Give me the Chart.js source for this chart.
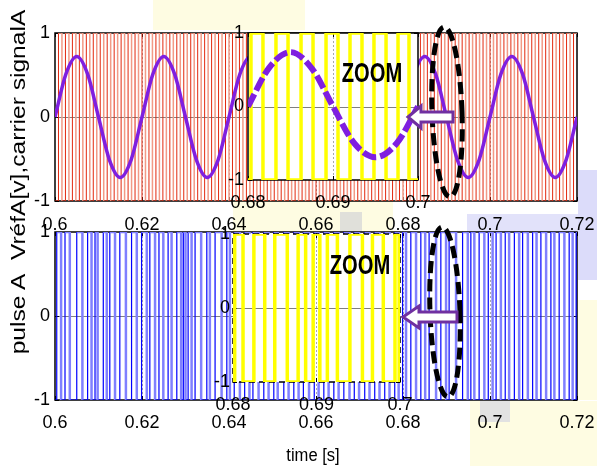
<!DOCTYPE html>
<html><head><meta charset="utf-8">
<script src="https://cdn.jsdelivr.net/npm/chart.js@4.4.1/dist/chart.umd.min.js"></script>
<style>
html,body{margin:0;padding:0;background:#fff;}
#fig{position:relative;width:597px;height:466px;overflow:hidden;background:#fff;font-family:'Liberation Sans',Arial,sans-serif;}
canvas{position:absolute;}
.bg{position:absolute;}
.txt{position:absolute;white-space:nowrap;color:#000;line-height:1;}
</style></head><body>
<div id="fig">
  <div class="bg" style="left:153px;top:0;width:152px;height:30px;background:#fefce2"></div>
  <div class="bg" style="left:233px;top:201px;width:160px;height:31px;background:#fefce2"></div>
  <div class="bg" style="left:340px;top:212px;width:22px;height:20px;background:#e0e0da"></div>
  <div class="bg" style="left:467px;top:214px;width:130px;height:18px;background:#e2e2fa"></div>
  <div class="bg" style="left:578px;top:170px;width:19px;height:110px;background:#dcdcfa"></div>
  <div class="bg" style="left:578px;top:300px;width:19px;height:100px;background:#fefce2"></div>
  <div class="bg" style="left:470px;top:401px;width:127px;height:65px;background:#fefce2"></div>
  <div class="bg" style="left:480px;top:401px;width:30px;height:21px;background:#e2e2e2"></div>

  <canvas id="cTop" width="597" height="213" style="left:0;top:23px"></canvas>
  <canvas id="cBot" width="597" height="213" style="left:0;top:222px"></canvas>
  <canvas id="cTopZoom" width="210" height="189" style="left:223px;top:23px"></canvas>
  <canvas id="cBotZoom" width="207" height="190" style="left:208px;top:224px"></canvas>

  <svg width="597" height="466" style="position:absolute;left:0;top:0" xmlns="http://www.w3.org/2000/svg">
    <ellipse cx="447" cy="112" rx="15" ry="85" fill="none" stroke="#000" stroke-width="5" stroke-dasharray="12 6" transform="rotate(-2 447 112)"/>
    <ellipse cx="445" cy="312" rx="15" ry="85" fill="none" stroke="#000" stroke-width="5" stroke-dasharray="12 6" transform="rotate(-2 445 312)"/>
    <polygon points="408,117 421,106 421,112 453,112 453,122 421,122 421,128" fill="#fff" stroke="#7030a0" stroke-width="3"/>
    <polygon points="403,317 419,306 419,312 457,312 457,322 419,322 419,328" fill="#fff" stroke="#7030a0" stroke-width="3"/>
  </svg>

  <div class="txt" style="left:372px;top:73px;font-weight:bold;font-size:28px;transform:translate(-50%,-50%) scaleX(0.72)">ZOOM</div>
  <div class="txt" style="left:360px;top:265px;font-weight:bold;font-size:28px;transform:translate(-50%,-50%) scaleX(0.72)">ZOOM</div>
  <div class="txt" style="left:17px;top:182px;font-size:21px;transform:translate(-50%,-50%) rotate(-90deg) scaleX(1.17)">pulse A&nbsp; VréfA[v],carrier signalA</div>
  <div class="txt" style="left:313px;top:455px;font-size:18px;transform:translate(-50%,-50%) scaleX(0.92)">time [s]</div>
</div>
<script>
// ---------------- data ----------------
const xTicksMain = [0.6, 0.62, 0.64, 0.66, 0.68, 0.7, 0.72];
const xLabelsMain = ['0.6', '0.62', '0.64', '0.66', '0.68', '0.7', '0.72'];
const xTicksZoom = [0.68, 0.69, 0.7];
const xLabelsZoom = ['0.68', '0.69', '0.7'];
const yTicks = [-1, 0, 1];
const yLabels = ['-1', '0', '1'];

// reference sine VrefA (time [s], value)
const refT = [0.6,0.6025,0.605,0.6075,0.61,0.6125,0.615,0.6175,
  0.62,0.6225,0.625,0.6275,0.63,0.6325,0.635,0.6375,
  0.64,0.6425,0.645,0.6475,0.65,0.6525,0.655,0.6575,
  0.66,0.6625,0.665,0.6675,0.67,0.6725,0.675,0.6775,
  0.68,0.6825,0.685,0.6875,0.69,0.6925,0.695,0.6975,
  0.7,0.7025,0.705,0.7075,0.71,0.7125,0.715,0.7175,0.72];
const refV = [0,0.51,0.72,0.51,0,-0.51,-0.72,-0.51,
  0,0.51,0.72,0.51,0,-0.51,-0.72,-0.51,
  0,0.51,0.72,0.51,0,-0.51,-0.72,-0.51,
  0,0.51,0.72,0.51,0,-0.51,-0.72,-0.51,
  0,0.51,0.72,0.51,0,-0.51,-0.72,-0.51,
  0,0.51,0.72,0.51,0,-0.51,-0.72,-0.51,0];

// reference sine in the zoom window
const zoomRefT = [0.68,0.6825,0.685,0.6875,0.69,0.6925,0.695,0.6975,0.7];
const zoomRefV = [0,0.53,0.74,0.52,0,-0.5,-0.69,-0.5,0];

// carrier signal A: times of the visible switching strokes (between -1 and +1)
const carrierEdges = [
  0.6008,0.6016,0.6024,0.6032,0.604,0.6048,0.6056,0.6064,0.6072,0.608,0.6088,0.6096,0.6104,0.6112,0.612,0.6128,0.6136,0.6144,0.6152,0.616,0.6168,0.6176,0.6184,0.6192,0.62,
  0.6208,0.6216,0.6224,0.6232,0.624,0.6248,0.6256,0.6264,0.6272,0.628,0.6288,0.6296,0.6304,0.6312,0.632,0.6328,0.6336,0.6344,0.6352,0.636,0.6368,0.6376,0.6384,0.6392,0.64,
  0.6408,0.6416,0.6424,0.6432,0.644,0.6448,0.6456,0.6464,0.6472,0.648,0.6488,0.6496,0.6504,0.6512,0.652,0.6528,0.6536,0.6544,0.6552,0.656,0.6568,0.6576,0.6584,0.6592,0.66,
  0.6608,0.6616,0.6624,0.6632,0.664,0.6648,0.6656,0.6664,0.6672,0.668,0.6688,0.6696,0.6704,0.6712,0.672,0.6728,0.6736,0.6744,0.6752,0.676,0.6768,0.6776,0.6784,0.6792,0.68,
  0.6808,0.6816,0.6824,0.6832,0.684,0.6848,0.6856,0.6864,0.6872,0.688,0.6888,0.6896,0.6904,0.6912,0.692,0.6928,0.6936,0.6944,0.6952,0.696,0.6968,0.6976,0.6984,0.6992,0.70,
  0.7008,0.7016,0.7024,0.7032,0.704,0.7048,0.7056,0.7064,0.7072,0.708,0.7088,0.7096,0.7104,0.7112,0.712,0.7128,0.7136,0.7144,0.7152,0.716,0.7168,0.7176,0.7184,0.7192];

// carrier strokes inside the zoom window
const zoomCarrierEdges = [0.68035,0.68176,0.68329,0.68471,0.68624,0.68765,0.68918,0.69059,0.692,0.69341,0.69482,0.69624,0.69765,0.69894];

// pulse A switching instants
const pulseEdges = [
  0.6004,0.6014,0.6023,0.6034,0.6050,0.6063,0.6075,0.6084,0.6092,0.6098,0.6111,0.6119,0.6126,0.6138,0.6149,0.6163,0.6176,0.6188,0.6199,
  0.6211,0.6218,0.6230,0.6239,0.6249,0.6260,0.6268,0.6280,0.6290,0.6295,0.6300,0.6306,0.6314,0.6322,0.6336,0.6349,0.6356,0.6368,0.6383,0.6395,0.6402,
  0.6412,0.6425,0.6436,0.6447,0.6455,0.6468,0.6480,0.6491,0.6503,0.6512,0.6526,0.6537,0.6549,0.6560,0.6571,0.6584,0.6596,0.6606,0.6618,0.6629,
  0.6641,0.6652,0.6664,0.6677,0.6688,0.6699,0.6712,0.6723,0.6735,0.6746,0.6758,0.6769,0.6781,0.6790,
  0.6799,0.6807,0.6818,0.6830,0.6841,0.6851,0.6860,0.6876,0.6887,0.6899,0.6906,0.6922,0.6937,0.6949,0.6956,0.6964,0.6975,0.6987,0.6996,
  0.7006,0.7014,0.7025,0.7035,0.7044,0.7056,0.7067,0.7075,0.7087,0.7098,0.7107,0.7117,0.7129,0.7140,0.7148,0.7159,0.7171,0.7182,0.7190,0.7198];

// pulse strokes inside the zoom window
const zoomPulseEdges = [0.6802,0.6812,0.6825,0.6838,0.6850,0.6865,0.6878,0.6887,0.6896,0.6904,0.6913,0.6925,0.6940,0.6955,0.6967,0.6980,0.6994,0.6999];

// ---------------- building helpers ----------------
function pairs(xs, ys) { return xs.map((x, i) => ({x, y: ys[i]})); }
function stepSeries(edges, t0, t1, start) {
  const pts = [{x: t0, y: start}];
  let lvl = start;
  edges.forEach(t => { lvl = -lvl; pts.push({x: t, y: lvl}); });
  pts.push({x: t1, y: lvl});
  return pts;
}

const TICK_FONT = {family: "'Liberation Sans',Arial,sans-serif", size: 18};

const framePlugin = {
  id: 'frame',
  beforeDraw(chart) {
    const {ctx, chartArea: a} = chart;
    ctx.save();
    ctx.fillStyle = '#fff';
    ctx.fillRect(a.left, a.top, a.right - a.left, a.bottom - a.top);
    ctx.restore();
  },
  beforeDatasetsDraw(chart, args, opts) {
    const {ctx, chartArea: a, scales} = chart;
    const xs = scales.x, ys = scales.y;
    ctx.save();
    ctx.strokeStyle = '#a8a8a8';
    ctx.lineWidth = 1;
    ctx.setLineDash([2, 2]);
    xs.ticks.forEach(t => {
      if (t.value <= xs.min || t.value >= xs.max) return;
      const px = Math.round(xs.getPixelForValue(t.value)) + 0.5;
      ctx.beginPath(); ctx.moveTo(px, a.top); ctx.lineTo(px, a.bottom); ctx.stroke();
    });
    ctx.setLineDash([]);
    ctx.strokeStyle = '#808080';
    const py = Math.round(ys.getPixelForValue(0)) + 0.5;
    ctx.beginPath(); ctx.moveTo(a.left, py); ctx.lineTo(a.right, py); ctx.stroke();
    ctx.strokeStyle = '#000';
    ctx.lineWidth = opts.lw || 1.5;
    ctx.setLineDash(opts.dash || []);
    ctx.strokeRect(a.left, a.top, a.right - a.left, a.bottom - a.top);
    ctx.setLineDash([]);
    ctx.lineWidth = 1;
    const L = 4;
    xs.ticks.forEach(t => {
      const px = Math.round(xs.getPixelForValue(t.value)) + 0.5;
      ctx.beginPath();
      ctx.moveTo(px, a.bottom); ctx.lineTo(px, a.bottom - L);
      ctx.moveTo(px, a.top); ctx.lineTo(px, a.top + L);
      ctx.stroke();
    });
    ys.ticks.forEach(t => {
      const p = Math.round(ys.getPixelForValue(t.value)) + 0.5;
      ctx.beginPath();
      ctx.moveTo(a.left, p); ctx.lineTo(a.left + L, p);
      ctx.moveTo(a.right, p); ctx.lineTo(a.right - L, p);
      ctx.stroke();
    });
    ctx.restore();
  }
};

function makeChart(id, datasets, cfg) {
  return new Chart(document.getElementById(id), {
    type: 'line',
    data: {datasets},
    plugins: [framePlugin],
    options: {
      responsive: false,
      animation: false,
      events: [],
      layout: {padding: {top: cfg.pt, right: cfg.pr, left: 0, bottom: 0}},
      plugins: {legend: {display: false}, tooltip: {enabled: false}, frame: {dash: cfg.dash, lw: cfg.lw}},
      elements: {point: {radius: 0}},
      scales: {
        x: {
          type: 'linear', min: cfg.xmin, max: cfg.xmax,
          grid: {display: false, drawTicks: false}, border: {display: false},
          afterBuildTicks: s => { s.ticks = cfg.xt.map(v => ({value: v})); },
          afterFit: s => { s.height = cfg.H; s.paddingLeft = 0; s.paddingRight = 0; },
          ticks: {
            autoSkip: false, maxRotation: 0, minRotation: 0, padding: cfg.xpad,
            color: '#000', font: TICK_FONT,
            callback: (v) => { const i = cfg.xt.findIndex(t => Math.abs(t - v) < 1e-9); return i >= 0 ? cfg.xl[i] : ''; }
          }
        },
        y: {
          type: 'linear', min: -1, max: 1,
          grid: {display: false, drawTicks: false}, border: {display: false},
          afterBuildTicks: s => { s.ticks = yTicks.map(v => ({value: v})); },
          afterFit: s => { s.width = cfg.W; s.paddingTop = 0; s.paddingBottom = 0; },
          ticks: {
            autoSkip: false, padding: cfg.ypad, color: '#000', font: TICK_FONT,
            callback: (v) => { const i = yTicks.indexOf(v); return i >= 0 ? yLabels[i] : ''; }
          }
        }
      }
    }
  });
}

function stepDataset(points, colA, wA, colB, wB) {
  return {
    data: points, stepped: true, borderColor: colA, borderWidth: wA, fill: false,
    segment: {
      borderColor: c => (c.p1DataIndex % 2 ? colA : colB),
      borderWidth: c => (c.p1DataIndex % 2 ? wA : wB)
    }
  };
}

// top main plot: reference + carrier
makeChart('cTop', [
  {data: pairs(refT, refV), borderColor: '#7f1fe0', borderWidth: 3.5, cubicInterpolationMode: 'monotone', fill: false},
  stepDataset(stepSeries(carrierEdges, 0.6, 0.72, -1), '#e2280e', 1, '#f29a86', 1.5)
], {xmin: 0.6, xmax: 0.72, xt: xTicksMain, xl: xLabelsMain, pt: 10, pr: 20, W: 55, H: 35, xpad: 13, ypad: 5});

// bottom main plot: pulse A
makeChart('cBot', [
  stepDataset(stepSeries(pulseEdges, 0.6, 0.72, -1), '#0000ff', 1.2, '#8080ff', 2.5)
], {xmin: 0.6, xmax: 0.72, xt: xTicksMain, xl: xLabelsMain, pt: 10, pr: 20, W: 55, H: 35, xpad: 12, ypad: 5});

// top zoom inset
makeChart('cTopZoom', [
  {data: pairs(zoomRefT, zoomRefV), borderColor: '#7f1fe0', borderWidth: 6, borderDash: [14, 4], cubicInterpolationMode: 'monotone', fill: false},
  stepDataset(stepSeries(zoomCarrierEdges, 0.68, 0.7, -1), '#ffff00', 3.5, '#ffff00', 3.5)
], {xmin: 0.68, xmax: 0.7, xt: xTicksZoom, xl: xLabelsZoom, pt: 10, pr: 15, W: 25, H: 32, xpad: 12, ypad: 4});

// bottom zoom inset
makeChart('cBotZoom', [
  stepDataset(stepSeries(zoomPulseEdges, 0.68, 0.7, -1), '#ffff00', 3.5, '#ffff00', 3.5)
], {xmin: 0.68, xmax: 0.7, xt: xTicksZoom, xl: xLabelsZoom, pt: 10, pr: 15, W: 25, H: 32, xpad: 12, ypad: 3, dash: [6, 4]});
</script>
</body></html>
